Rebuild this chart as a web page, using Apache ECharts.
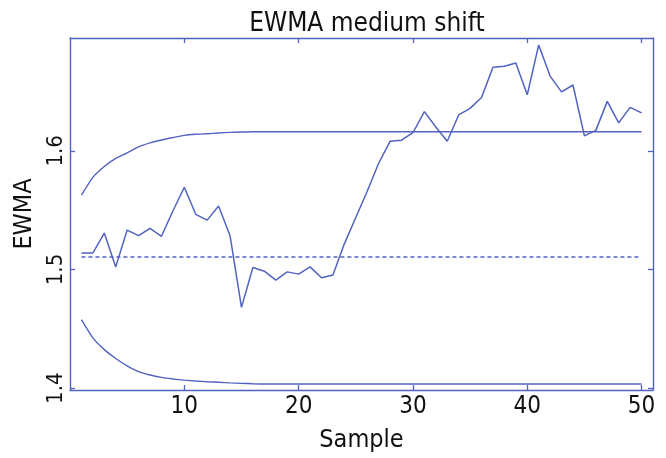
<!DOCTYPE html>
<html>
<head>
<meta charset="utf-8">
<script src="https://cdn.jsdelivr.net/npm/echarts@6/dist/echarts.min.js"></script>
<style>html,body{margin:0;padding:0;background:#fff}#c{width:666px;height:458px}</style>
</head>
<body>
<div id="c"></div>
<script>
const samples = Array.from({length: 50}, (_, k) => k + 1);
const ewma = [1.5139,1.5139,1.5307,1.5022,1.5332,1.5285,1.5346,1.5280,1.5493,1.5693,
  1.5465,1.5416,1.5535,1.5285,1.4681,1.5017,1.4986,1.4911,1.4980,1.4961,
  1.5022,1.4931,1.4953,1.5216,1.5438,1.5659,1.5895,1.6080,1.6089,1.6152,
  1.6330,1.6200,1.6080,1.6302,1.6357,1.6449,1.6704,1.6712,1.6740,1.6471,
  1.6892,1.6629,1.6496,1.6554,1.6125,1.6172,1.6416,1.6235,1.6366,1.6319];
const ucl = [1.5626,1.5776,1.5867,1.5936,1.5983,1.6033,1.6066,1.6091,1.6111,1.6130,
  1.6139,1.6144,1.6150,1.6155,1.6158,1.6160,1.6160,1.6160,1.6160,1.6160,
  1.6160,1.6160,1.6160,1.6160,1.6160,1.6160,1.6160,1.6160,1.6160,1.6160,
  1.6160,1.6160,1.6160,1.6160,1.6160,1.6160,1.6160,1.6160,1.6160,1.6160,
  1.6160,1.6160,1.6160,1.6160,1.6160,1.6160,1.6160,1.6160,1.6160,1.6160];
const lcl = [1.4577,1.4424,1.4325,1.4250,1.4189,1.4140,1.4111,1.4091,1.4078,1.4068,
  1.4061,1.4055,1.4050,1.4045,1.4041,1.4038,1.4036,1.4036,1.4036,1.4036,
  1.4036,1.4036,1.4036,1.4036,1.4036,1.4036,1.4036,1.4036,1.4036,1.4036,
  1.4036,1.4036,1.4036,1.4036,1.4036,1.4036,1.4036,1.4036,1.4036,1.4036,
  1.4036,1.4036,1.4036,1.4036,1.4036,1.4036,1.4036,1.4036,1.4036,1.4036];
const centerLine = 1.5105;
const xTicks = [10, 20, 30, 40, 50];
const yTicks = [1.4, 1.5, 1.6];

const C = '#5262c0';
const font = '"Liberation Sans Narrow", "DejaVu Sans Condensed", "Liberation Sans", Arial, sans-serif';
const pair = (ys) => samples.map((x, i) => [x, ys[i]]);

const chart = echarts.init(document.getElementById('c'), null, {renderer: 'canvas'});
const xBase = {
  type: 'value', min: 0, max: 51,
  axisLine: {show: true, onZero: false, lineStyle: {color: C, width: 1.4}},
  axisTick: {show: true, inside: true, length: 5, customValues: xTicks, lineStyle: {color: C, width: 1.3}},
  splitLine: {show: false}
};
const yBase = {
  type: 'value', min: 1.3985, max: 1.695,
  axisLine: {show: true, onZero: false, lineStyle: {color: C, width: 1.4}},
  axisTick: {show: true, inside: true, length: 5, customValues: yTicks, lineStyle: {color: C, width: 1.3}},
  splitLine: {show: false}
};
chart.setOption({
  animation: false,
  title: {
    text: 'EWMA medium shift', left: 362, top: 6, textAlign: 'center',
    textStyle: {fontFamily: font, fontSize: 26, fontWeight: 'normal', color: '#111'}
  },
  grid: {left: 70, right: 13, top: 38, bottom: 63},
  xAxis: [
    Object.assign({}, xBase, {
      position: 'bottom',
      name: 'Sample', nameLocation: 'middle', nameGap: 38,
      nameTextStyle: {fontFamily: font, fontSize: 25, color: '#111'},
      axisLabel: {
        show: true, margin: 5, customValues: xTicks,
        fontFamily: font, fontSize: 24, color: '#111',
        formatter: v => String(v)
      }
    }),
    Object.assign({}, xBase, {position: 'top', axisLabel: {show: false}})
  ],
  yAxis: [
    Object.assign({}, yBase, {
      position: 'left',
      name: 'EWMA', nameLocation: 'middle', nameGap: 25, nameRotate: 90,
      nameTextStyle: {fontFamily: font, fontSize: 25, color: '#111'},
      axisLabel: {
        show: true, rotate: 90, margin: 3, customValues: yTicks,
        fontFamily: font, fontSize: 22, color: '#111',
        formatter: v => Number(v).toFixed(1)
      }
    }),
    Object.assign({}, yBase, {position: 'right', axisLabel: {show: false}})
  ],
  series: [
    {type: 'line', data: pair(ewma), showSymbol: false, symbol: 'none',
     lineStyle: {color: C, width: 1.5}, z: 3},
    {type: 'line', data: pair(ucl), showSymbol: false, symbol: 'none', smooth: 0.2,
     lineStyle: {color: C, width: 1.4}},
    {type: 'line', data: pair(lcl), showSymbol: false, symbol: 'none', smooth: 0.2,
     lineStyle: {color: C, width: 1.4}},
    {type: 'line', data: pair(samples.map(() => centerLine)), showSymbol: false, symbol: 'none',
     lineStyle: {color: C, width: 1.4, type: [4, 3]}}
  ]
});
</script>
</body>
</html>
